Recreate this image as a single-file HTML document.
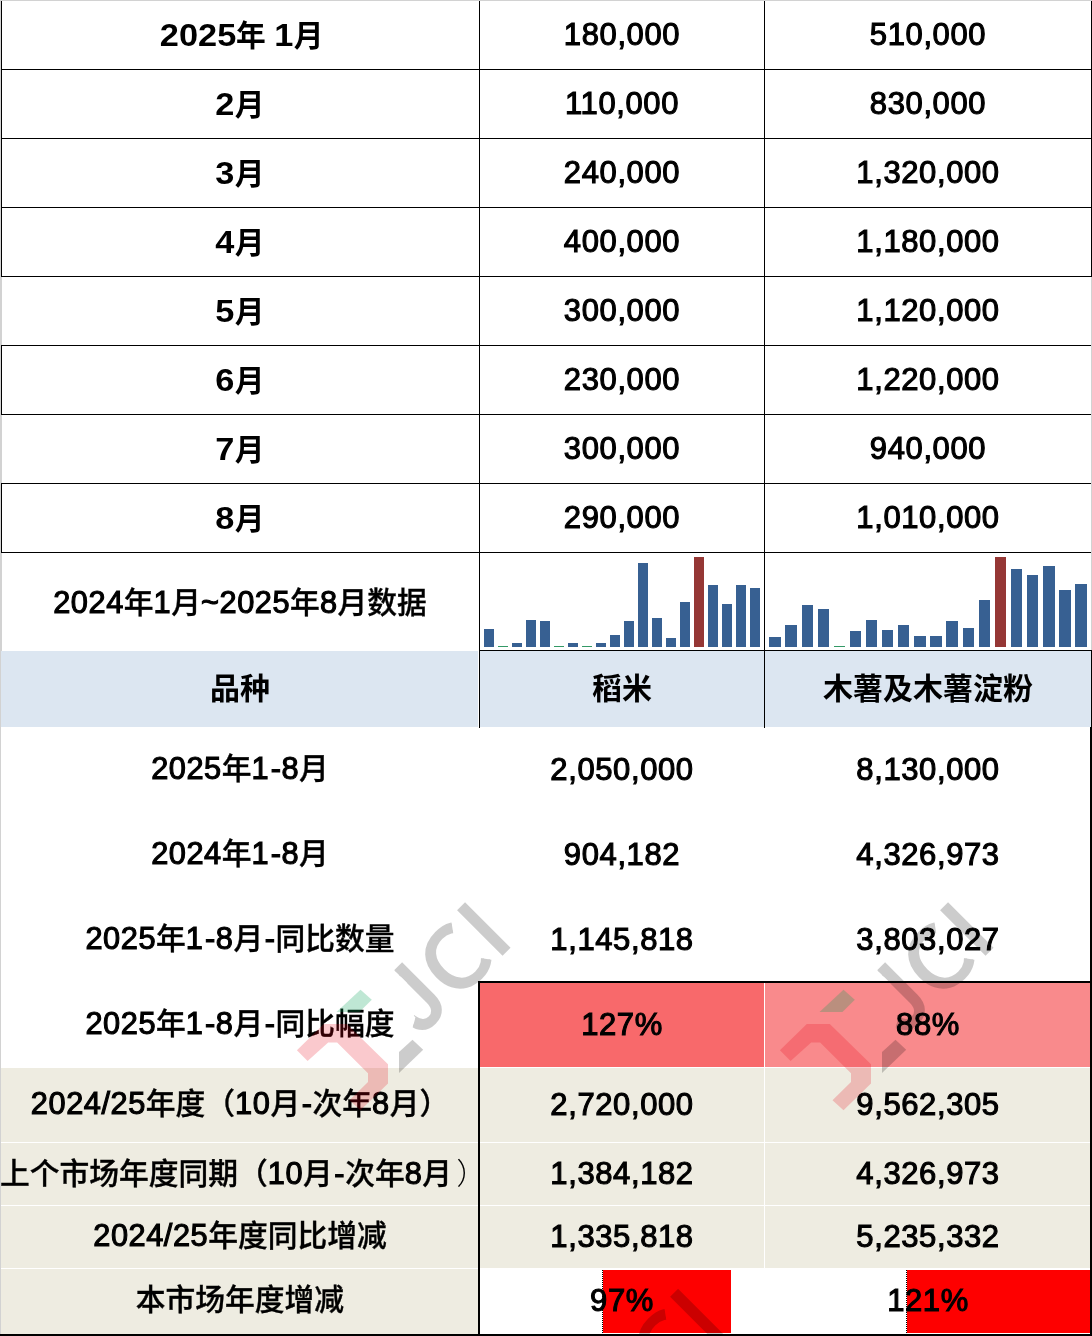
<!DOCTYPE html>
<html lang="zh-CN"><head><meta charset="utf-8"><title>2024年1月~2025年8月数据</title>
<style>
html,body{margin:0;padding:0;background:#fff}
body{width:1092px;height:1336px;position:relative;overflow:hidden;font-family:"Liberation Sans","Noto Sans CJK SC",sans-serif;color:#000}
.r{position:absolute;display:block}
.t{will-change:transform;position:absolute;white-space:nowrap;text-align:center;overflow:hidden;color:#000}
.b{font-weight:700;font-size:31.5px}
.b i,.b u{text-indent:0}
.b i{font-style:normal;display:inline-block;transform:scaleX(1.09);margin:0 3.2px}
.b u{text-decoration:none;display:inline-block;transform:scaleX(1.09);margin:0 0.8px}
.c{font-size:29.75px;position:relative;top:-0.3px;letter-spacing:0}
.h{font-weight:700;font-size:30px}
.m .c{font-weight:500;-webkit-text-stroke-width:0.35px}
.m s{text-decoration:none;margin-left:1.5px}
.m em{font-style:normal;margin-left:4.5px}
.m em .c{font-weight:300;-webkit-text-stroke-width:0}
.n{font-weight:400;font-size:31px;letter-spacing:0.6px;-webkit-text-stroke:1.1px #000}
.m{font-weight:400;font-size:30.75px;letter-spacing:0.55px;-webkit-text-stroke:1.1px #000}
svg{position:absolute;left:0;top:0}
</style></head><body>
<div class="r" style="left:0px;top:0px;width:1092px;height:1px;background:#d2d2d2"></div>
<div class="r" style="left:0px;top:0px;width:1px;height:1336px;background:#d2d2d2"></div>
<div class="r" style="left:1px;top:277px;width:1px;height:68px;background:#d2d2d2"></div>
<div class="r" style="left:1px;top:415px;width:1px;height:68px;background:#d2d2d2"></div>
<div class="r" style="left:1px;top:553px;width:1px;height:98px;background:#d2d2d2"></div>
<div class="r" style="left:1091px;top:277px;width:1px;height:373px;background:#d2d2d2"></div>
<div class="r" style="left:1px;top:651px;width:477px;height:76px;background:#dce6f1"></div>
<div class="r" style="left:480px;top:651px;width:284px;height:76px;background:#dce6f1"></div>
<div class="r" style="left:765px;top:651px;width:326px;height:76px;background:#dce6f1"></div>
<div class="r" style="left:1px;top:1068px;width:477px;height:74px;background:#eeece1"></div>
<div class="r" style="left:480px;top:1068px;width:284px;height:74px;background:#eeece1"></div>
<div class="r" style="left:765px;top:1068px;width:325px;height:74px;background:#eeece1"></div>
<div class="r" style="left:1px;top:1143px;width:477px;height:62px;background:#eeece1"></div>
<div class="r" style="left:480px;top:1143px;width:284px;height:62px;background:#eeece1"></div>
<div class="r" style="left:765px;top:1143px;width:325px;height:62px;background:#eeece1"></div>
<div class="r" style="left:1px;top:1206px;width:477px;height:62px;background:#eeece1"></div>
<div class="r" style="left:480px;top:1206px;width:284px;height:62px;background:#eeece1"></div>
<div class="r" style="left:765px;top:1206px;width:325px;height:62px;background:#eeece1"></div>
<div class="r" style="left:1px;top:1269px;width:477px;height:65px;background:#eeece1"></div>
<div class="r" style="left:480px;top:983px;width:284px;height:84px;background:#f8696b"></div>
<div class="r" style="left:765px;top:983px;width:325px;height:84px;background:#f98a8c"></div>
<div class="r" style="left:603px;top:1270px;width:128px;height:63px;background:#fe0000"></div>
<div class="r" style="left:907px;top:1270px;width:183px;height:63px;background:#fe0000"></div>
<div class="r" style="left:602px;top:1270px;width:0;height:63px;border-left:1px dotted #000"></div>
<div class="r" style="left:906px;top:1270px;width:0;height:63px;border-left:1px dotted #000"></div>
<div class="r" style="left:1px;top:69px;width:1091px;height:1px;background:#000"></div>
<div class="r" style="left:1px;top:138px;width:1091px;height:1px;background:#000"></div>
<div class="r" style="left:1px;top:207px;width:1091px;height:1px;background:#000"></div>
<div class="r" style="left:1px;top:276px;width:1091px;height:1px;background:#000"></div>
<div class="r" style="left:1px;top:345px;width:1090px;height:1px;background:#000"></div>
<div class="r" style="left:1px;top:414px;width:1090px;height:1px;background:#000"></div>
<div class="r" style="left:1px;top:483px;width:1090px;height:1px;background:#000"></div>
<div class="r" style="left:1px;top:552px;width:1090px;height:1px;background:#000"></div>
<div class="r" style="left:1px;top:1px;width:1px;height:276px;background:#000"></div>
<div class="r" style="left:1px;top:345px;width:1px;height:70px;background:#000"></div>
<div class="r" style="left:1px;top:483px;width:1px;height:70px;background:#000"></div>
<div class="r" style="left:1091px;top:1px;width:1px;height:276px;background:#000"></div>
<div class="r" style="left:479px;top:1px;width:1px;height:727px;background:#000"></div>
<div class="r" style="left:764px;top:1px;width:1px;height:727px;background:#000"></div>
<div class="r" style="left:479px;top:650px;width:613px;height:1px;background:#000"></div>
<div class="r" style="left:1091px;top:650px;width:1px;height:78px;background:#000"></div>
<div class="r" style="left:1090px;top:727px;width:2px;height:609px;background:#000"></div>
<div class="r" style="left:478px;top:981px;width:2px;height:355px;background:#000"></div>
<div class="r" style="left:478px;top:981px;width:614px;height:2px;background:#000"></div>
<div class="r" style="left:0px;top:1334px;width:1092px;height:2px;background:#000"></div>
<svg width="1092" height="1336" viewBox="0 0 1092 1336" shape-rendering="crispEdges">
<rect x="484" y="629" width="10" height="18" fill="#376092"/>
<rect x="498" y="646" width="10" height="1" fill="#339966"/>
<rect x="512" y="643" width="10" height="4" fill="#376092"/>
<rect x="526" y="620" width="10" height="27" fill="#376092"/>
<rect x="540" y="621" width="10" height="26" fill="#376092"/>
<rect x="554" y="646" width="10" height="1" fill="#339966"/>
<rect x="568" y="643" width="10" height="4" fill="#376092"/>
<rect x="582" y="646" width="10" height="1" fill="#339966"/>
<rect x="596" y="643" width="10" height="4" fill="#376092"/>
<rect x="610" y="635" width="10" height="12" fill="#376092"/>
<rect x="624" y="621" width="10" height="26" fill="#376092"/>
<rect x="638" y="563" width="10" height="84" fill="#376092"/>
<rect x="652" y="618" width="10" height="29" fill="#376092"/>
<rect x="666" y="638" width="10" height="9" fill="#376092"/>
<rect x="680" y="602" width="10" height="45" fill="#376092"/>
<rect x="694" y="557" width="10" height="90" fill="#953735"/>
<rect x="708" y="585" width="10" height="62" fill="#376092"/>
<rect x="722" y="604" width="10" height="43" fill="#376092"/>
<rect x="736" y="585" width="10" height="62" fill="#376092"/>
<rect x="750" y="588" width="10" height="59" fill="#376092"/>
<rect x="769" y="637" width="12" height="10" fill="#376092"/>
<rect x="785" y="625" width="12" height="22" fill="#376092"/>
<rect x="802" y="605" width="11" height="42" fill="#376092"/>
<rect x="818" y="609" width="11" height="38" fill="#376092"/>
<rect x="834" y="646" width="11" height="1" fill="#339966"/>
<rect x="850" y="631" width="11" height="16" fill="#376092"/>
<rect x="866" y="620" width="11" height="27" fill="#376092"/>
<rect x="882" y="630" width="11" height="17" fill="#376092"/>
<rect x="898" y="625" width="11" height="22" fill="#376092"/>
<rect x="914" y="636" width="12" height="11" fill="#376092"/>
<rect x="930" y="636" width="12" height="11" fill="#376092"/>
<rect x="946" y="621" width="12" height="26" fill="#376092"/>
<rect x="963" y="628" width="11" height="19" fill="#376092"/>
<rect x="979" y="600" width="11" height="47" fill="#376092"/>
<rect x="995" y="557" width="11" height="90" fill="#953735"/>
<rect x="1011" y="569" width="11" height="78" fill="#376092"/>
<rect x="1027" y="575" width="11" height="72" fill="#376092"/>
<rect x="1043" y="566" width="12" height="81" fill="#376092"/>
<rect x="1059" y="590" width="12" height="57" fill="#376092"/>
<rect x="1075" y="584" width="12" height="63" fill="#376092"/>
</svg>
<div class="t b" style="left:2px;top:1px;width:476px;height:69px;line-height:69px;text-indent:3px;"><i>2025</i><span class="c">年</span> <u>1</u><span class="c">月</span></div>
<div class="t n" style="left:480px;top:0px;width:284px;height:69px;line-height:69px;">180,000</div>
<div class="t n" style="left:765px;top:0px;width:326px;height:69px;line-height:69px;">510,000</div>
<div class="t b" style="left:2px;top:70px;width:476px;height:69px;line-height:69px;"><u>2</u><span class="c">月</span></div>
<div class="t n" style="left:480px;top:69px;width:284px;height:69px;line-height:69px;">110,000</div>
<div class="t n" style="left:765px;top:69px;width:326px;height:69px;line-height:69px;">830,000</div>
<div class="t b" style="left:2px;top:139px;width:476px;height:69px;line-height:69px;"><u>3</u><span class="c">月</span></div>
<div class="t n" style="left:480px;top:138px;width:284px;height:69px;line-height:69px;">240,000</div>
<div class="t n" style="left:765px;top:138px;width:326px;height:69px;line-height:69px;">1,320,000</div>
<div class="t b" style="left:2px;top:208px;width:476px;height:69px;line-height:69px;"><u>4</u><span class="c">月</span></div>
<div class="t n" style="left:480px;top:207px;width:284px;height:69px;line-height:69px;">400,000</div>
<div class="t n" style="left:765px;top:207px;width:326px;height:69px;line-height:69px;">1,180,000</div>
<div class="t b" style="left:2px;top:277px;width:476px;height:69px;line-height:69px;"><u>5</u><span class="c">月</span></div>
<div class="t n" style="left:480px;top:276px;width:284px;height:69px;line-height:69px;">300,000</div>
<div class="t n" style="left:765px;top:276px;width:326px;height:69px;line-height:69px;">1,120,000</div>
<div class="t b" style="left:2px;top:346px;width:476px;height:69px;line-height:69px;"><u>6</u><span class="c">月</span></div>
<div class="t n" style="left:480px;top:345px;width:284px;height:69px;line-height:69px;">230,000</div>
<div class="t n" style="left:765px;top:345px;width:326px;height:69px;line-height:69px;">1,220,000</div>
<div class="t b" style="left:2px;top:415px;width:476px;height:69px;line-height:69px;"><u>7</u><span class="c">月</span></div>
<div class="t n" style="left:480px;top:414px;width:284px;height:69px;line-height:69px;">300,000</div>
<div class="t n" style="left:765px;top:414px;width:326px;height:69px;line-height:69px;">940,000</div>
<div class="t b" style="left:2px;top:484px;width:476px;height:69px;line-height:69px;"><u>8</u><span class="c">月</span></div>
<div class="t n" style="left:480px;top:483px;width:284px;height:69px;line-height:69px;">290,000</div>
<div class="t n" style="left:765px;top:483px;width:326px;height:69px;line-height:69px;">1,010,000</div>
<div class="t m" style="left:2px;top:554px;width:476px;height:98px;line-height:98px;">2024<span class="c">年</span>1<span class="c">月</span>~2025<span class="c">年</span>8<span class="c">月数据</span></div>
<div class="t h" style="left:2px;top:650px;width:476px;height:77px;line-height:77px;">品种</div>
<div class="t h" style="left:480px;top:650px;width:284px;height:77px;line-height:77px;">稻米</div>
<div class="t h" style="left:765px;top:650px;width:326px;height:77px;line-height:77px;">木薯及木薯淀粉</div>
<div class="t m" style="left:2px;top:726px;width:476px;height:85px;line-height:85px;">2025<span class="c">年</span>1<s>-</s>8<span class="c">月</span></div>
<div class="t n" style="left:480px;top:727px;width:284px;height:85px;line-height:85px;">2,050,000</div>
<div class="t n" style="left:765px;top:727px;width:326px;height:85px;line-height:85px;">8,130,000</div>
<div class="t m" style="left:2px;top:811px;width:476px;height:85px;line-height:85px;">2024<span class="c">年</span>1<s>-</s>8<span class="c">月</span></div>
<div class="t n" style="left:480px;top:812px;width:284px;height:85px;line-height:85px;">904,182</div>
<div class="t n" style="left:765px;top:812px;width:326px;height:85px;line-height:85px;">4,326,973</div>
<div class="t m" style="left:2px;top:896px;width:476px;height:85px;line-height:85px;">2025<span class="c">年</span>1<s>-</s>8<span class="c">月</span><s>-</s><span class="c">同比数量</span></div>
<div class="t n" style="left:480px;top:897px;width:284px;height:85px;line-height:85px;">1,145,818</div>
<div class="t n" style="left:765px;top:897px;width:326px;height:85px;line-height:85px;">3,803,027</div>
<div class="t m" style="left:2px;top:981px;width:476px;height:85px;line-height:85px;">2025<span class="c">年</span>1<s>-</s>8<span class="c">月</span><s>-</s><span class="c">同比幅度</span></div>
<div class="t n" style="left:480px;top:982px;width:284px;height:85px;line-height:85px;">127%</div>
<div class="t n" style="left:765px;top:982px;width:326px;height:85px;line-height:85px;">88%</div>
<div class="t m" style="left:2px;top:1066px;width:476px;height:75px;line-height:75px;">2024/25<span class="c">年度（</span>10<span class="c">月</span><s>-</s><span class="c">次年</span>8<span class="c">月）</span></div>
<div class="t n" style="left:480px;top:1067px;width:284px;height:75px;line-height:75px;">2,720,000</div>
<div class="t n" style="left:765px;top:1067px;width:326px;height:75px;line-height:75px;">9,562,305</div>
<div class="t m" style="left:0px;top:1142px;width:478px;height:63px;line-height:63px;text-align:left;"><span class="c">上个市场年度同期（</span>10<span class="c">月</span><s>-</s><span class="c">次年</span>8<span class="c">月</span><em><span class="c">）</span></em></div>
<div class="t n" style="left:480px;top:1142px;width:284px;height:63px;line-height:63px;">1,384,182</div>
<div class="t n" style="left:765px;top:1142px;width:326px;height:63px;line-height:63px;">4,326,973</div>
<div class="t m" style="left:2px;top:1204px;width:476px;height:63px;line-height:63px;">2024/25<span class="c">年度同比增减</span></div>
<div class="t n" style="left:480px;top:1205px;width:284px;height:63px;line-height:63px;">1,335,818</div>
<div class="t n" style="left:765px;top:1205px;width:326px;height:63px;line-height:63px;">5,235,332</div>
<div class="t m" style="left:2px;top:1267px;width:476px;height:66px;line-height:66px;"><span class="c">本市场年度增减</span></div>
<div class="t n" style="left:480px;top:1268px;width:284px;height:66px;line-height:66px;">97%</div>
<div class="t n" style="left:765px;top:1268px;width:326px;height:66px;line-height:66px;">121%</div>
<svg width="1092" height="1336" viewBox="0 0 1092 1336">
<g transform="translate(0,0)">
<polygon points="296.9,1050.3 323.8,1024.0 346.8,1024.0 388.0,1064.3 388.0,1083.5 360.5,1110.3 349.5,1100.3 368.0,1082.1 368.0,1073.2 337.1,1042.6 328.2,1042.6 307.6,1060.9" fill="#e60012" fill-opacity="0.21"/>
<polygon points="336.5,1012.1 360.5,989.8 371.8,999.7 359.4,1012.1" fill="#00a055" fill-opacity="0.25"/>
<polygon points="399.0,1052.0 412.5,1039.7 423.2,1049.8 399.0,1073.0" fill="#000" fill-opacity="0.2"/>
<g transform="translate(505.4,950.7) rotate(-45)" opacity="0.2" fill="#000" stroke="#000" stroke-width="3" font-family="Liberation Sans, sans-serif" font-weight="400" font-size="89.2">
<clipPath id="jc1"><polygon points="-92.44,-80 -60,-80 -60,20 -140,20 -140,-0.3 -119.1,-11.4 -110.8,-15.8 -110.8,-45 -92.44,-45"/></clipPath>
<clipPath id="cc1"><polygon points="64.13,-74.6 33.83,-33 64.13,8.6 -24.07,8.6 -24.07,-74.6"/></clipPath>
<text x="-120.64" y="0" transform="scale(1,1.03)" clip-path="url(#jc1)">J</text><text transform="translate(-70.93,1) scale(1,1)" clip-path="url(#cc1)">C</text><text x="-12.39" y="0">I</text>
</g></g>
<g transform="translate(483,0)">
<polygon points="296.9,1050.3 323.8,1024.0 346.8,1024.0 388.0,1064.3 388.0,1083.5 360.5,1110.3 349.5,1100.3 368.0,1082.1 368.0,1073.2 337.1,1042.6 328.2,1042.6 307.6,1060.9" fill="#e60012" fill-opacity="0.21"/>
<polygon points="336.5,1012.1 360.5,989.8 371.8,999.7 359.4,1012.1" fill="#00a055" fill-opacity="0.25"/>
<polygon points="399.0,1052.0 412.5,1039.7 423.2,1049.8 399.0,1073.0" fill="#000" fill-opacity="0.2"/>
<g transform="translate(505.4,950.7) rotate(-45)" opacity="0.2" fill="#000" stroke="#000" stroke-width="3" font-family="Liberation Sans, sans-serif" font-weight="400" font-size="89.2">
<clipPath id="jc2"><polygon points="-92.44,-80 -60,-80 -60,20 -140,20 -140,-0.3 -119.1,-11.4 -110.8,-15.8 -110.8,-45 -92.44,-45"/></clipPath>
<clipPath id="cc2"><polygon points="64.13,-74.6 33.83,-33 64.13,8.6 -24.07,8.6 -24.07,-74.6"/></clipPath>
<text x="-120.64" y="0" transform="scale(1,1.03)" clip-path="url(#jc2)">J</text><text transform="translate(-70.93,1) scale(1,1)" clip-path="url(#cc2)">C</text><text x="-12.39" y="0">I</text>
</g></g>
<g transform="translate(213,386.5)">
<polygon points="296.9,1050.3 323.8,1024.0 346.8,1024.0 388.0,1064.3 388.0,1083.5 360.5,1110.3 349.5,1100.3 368.0,1082.1 368.0,1073.2 337.1,1042.6 328.2,1042.6 307.6,1060.9" fill="#e60012" fill-opacity="0.21"/>
<polygon points="336.5,1012.1 360.5,989.8 371.8,999.7 359.4,1012.1" fill="#00a055" fill-opacity="0.25"/>
<polygon points="399.0,1052.0 412.5,1039.7 423.2,1049.8 399.0,1073.0" fill="#000" fill-opacity="0.2"/>
<g transform="translate(505.4,950.7) rotate(-45)" opacity="0.2" fill="#000" stroke="#000" stroke-width="3" font-family="Liberation Sans, sans-serif" font-weight="400" font-size="89.2">
<clipPath id="jc3"><polygon points="-92.44,-80 -60,-80 -60,20 -140,20 -140,-0.3 -119.1,-11.4 -110.8,-15.8 -110.8,-45 -92.44,-45"/></clipPath>
<clipPath id="cc3"><polygon points="64.13,-74.6 33.83,-33 64.13,8.6 -24.07,8.6 -24.07,-74.6"/></clipPath>
<text x="-120.64" y="0" transform="scale(1,1.03)" clip-path="url(#jc3)">J</text><text transform="translate(-70.93,1) scale(1,1)" clip-path="url(#cc3)">C</text><text x="-12.39" y="0">I</text>
</g></g>
</svg>
</body></html>
